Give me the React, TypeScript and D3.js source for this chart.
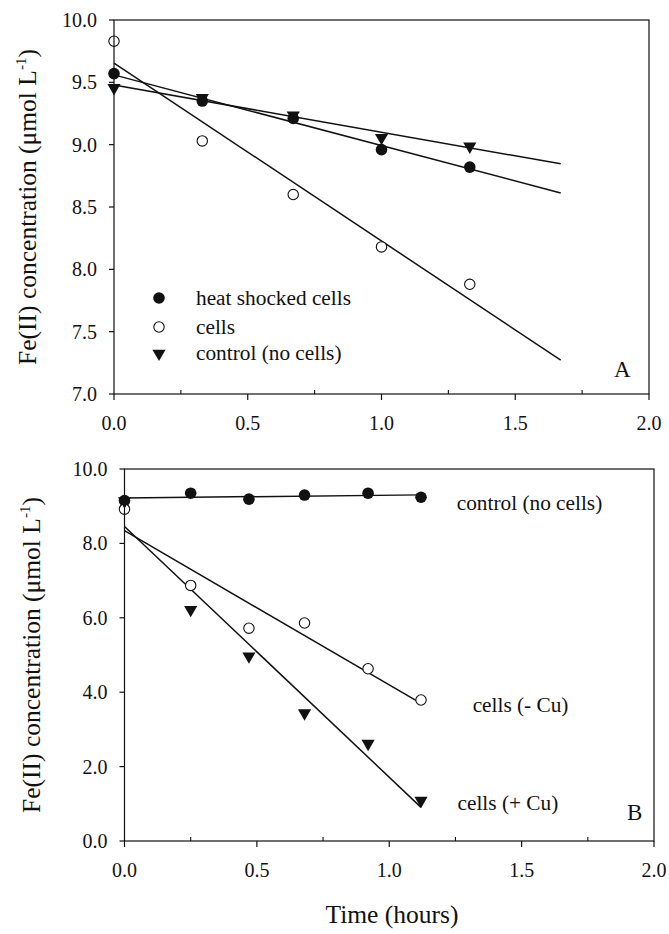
import React from 'react';
import * as d3 from 'd3';

// ---------- data ----------
const timeA = [0, 0.33, 0.67, 1.0, 1.33];
const heatShockedA = [9.57, 9.35, 9.21, 8.96, 8.82];
const cellsA = [9.83, 9.03, 8.6, 8.18, 7.88];
const controlA = [9.46, 9.38, 9.24, 9.06, 8.99];
const fitEndA = 1.67;

const timeB = [0, 0.25, 0.47, 0.68, 0.92, 1.12];
const controlB = [9.15, 9.35, 9.19, 9.3, 9.35, 9.24];
const cellsMinusCuB = [8.92, 6.87, 5.72, 5.86, 4.63, 3.79];
const cellsPlusCuB = [9.15, 6.23, 4.98, 3.45, 2.63, 1.1];
const fitEndB = 1.12;

const xTicks = [0, 0.5, 1.0, 1.5, 2.0];
const xMinorTicks = [0.25, 0.75, 1.25, 1.75];
const yTicksA = [7.0, 7.5, 8.0, 8.5, 9.0, 9.5, 10.0];
const yTicksB = [0, 2, 4, 6, 8, 10];
const legendA = ['heat shocked cells', 'cells', 'control (no cells)'];
const labelsB = ['control (no cells)', 'cells (- Cu)', 'cells (+ Cu)'];
const xTitle = 'Time (hours)';

// ---------- style ----------
const FONT = "'Liberation Serif', 'Times New Roman', Times, serif";
const INK = '#111';
const TICK_FS = 20;
const LABEL_FS = 21.3;
const TITLE_FS = 25.5;

type Marker = 'filled' | 'open' | 'tri';

function fit(xs: number[], ys: number[]) {
  const mx = d3.mean(xs) as number;
  const my = d3.mean(ys) as number;
  let sxy = 0;
  let sxx = 0;
  xs.forEach((x, i) => {
    sxy += (x - mx) * (ys[i] - my);
    sxx += (x - mx) * (x - mx);
  });
  const slope = sxy / sxx;
  return { slope, intercept: my - slope * mx };
}

const triPath = d3.symbol(d3.symbolTriangle, 75)() as string;

function MarkerShape({ kind, x, y }: { kind: Marker; x: number; y: number }) {
  if (kind === 'filled') return <circle cx={x} cy={y} r={5.8} fill={INK} />;
  if (kind === 'open')
    return <circle cx={x} cy={y} r={5.2} fill="white" stroke={INK} strokeWidth={1.1} />;
  return <path d={triPath} transform={`translate(${x},${y + 0.5}) rotate(180)`} fill={INK} />;
}

interface Series {
  t: number[];
  v: number[];
  marker: Marker;
}

interface PanelProps {
  left: number;
  right: number;
  top: number;
  bottom: number;
  yDomain: [number, number];
  yTicks: number[];
  series: Series[];
  fitEnd: number;
  titleX: number;
  letter: string;
  letterPos: [number, number];
  children?: (x: d3.ScaleLinear<number, number>, y: d3.ScaleLinear<number, number>) => React.ReactNode;
}

const txt = (fs: number): React.CSSProperties => ({ fontFamily: FONT, fontSize: fs + 'px', fill: INK });

function Panel(p: PanelProps) {
  const x = d3.scaleLinear().domain([0, 2]).range([p.left, p.right]);
  const y = d3.scaleLinear().domain(p.yDomain).range([p.bottom, p.top]);
  const line = d3
    .line<[number, number]>()
    .x((d) => x(d[0]))
    .y((d) => y(d[1]));
  const cy = (p.top + p.bottom) / 2;
  return (
    <g>
      {p.series.map((s, i) => {
        const f = fit(s.t, s.v);
        const pts: [number, number][] = [
          [0, f.intercept],
          [p.fitEnd, f.intercept + f.slope * p.fitEnd],
        ];
        return <path key={'l' + i} d={line(pts) as string} stroke={INK} strokeWidth={1.5} fill="none" />;
      })}
      {p.series.map((s, i) =>
        s.t.map((t, j) => <MarkerShape key={`m${i}-${j}`} kind={s.marker} x={x(t)} y={y(s.v[j])} />)
      )}
      <rect
        x={p.left}
        y={p.top}
        width={p.right - p.left}
        height={p.bottom - p.top}
        fill="none"
        stroke={INK}
        strokeWidth={1.2}
      />
      {xTicks.map((t) => (
        <g key={'xt' + t}>
          <line x1={x(t)} x2={x(t)} y1={p.bottom} y2={p.bottom + 6} stroke={INK} strokeWidth={1.2} />
          <text x={x(t)} y={p.bottom + 36} textAnchor="middle" style={txt(TICK_FS)}>
            {t.toFixed(1)}
          </text>
        </g>
      ))}
      {xMinorTicks.map((t) => (
        <line key={'xm' + t} x1={x(t)} x2={x(t)} y1={p.bottom} y2={p.bottom - 4} stroke={INK} strokeWidth={1.1} />
      ))}
      {p.yTicks.map((t) => (
        <g key={'yt' + t}>
          <line x1={p.left - 5} x2={p.left} y1={y(t)} y2={y(t)} stroke={INK} strokeWidth={1.2} />
          <text x={p.left - 17} y={y(t) + 7} textAnchor="end" style={txt(TICK_FS)}>
            {t.toFixed(1)}
          </text>
        </g>
      ))}
      <text transform={`translate(${p.titleX},${cy}) rotate(-90)`} textAnchor="middle" style={txt(TITLE_FS)}>
        Fe(II) concentration (μmol L
        <tspan dy={-10} style={{ fontSize: '15px' }}>
          -1
        </tspan>
        <tspan dy={10}>)</tspan>
      </text>
      <text x={p.letterPos[0]} y={p.letterPos[1]} style={txt(23)}>
        {p.letter}
      </text>
      {p.children && p.children(x, y)}
    </g>
  );
}

export default function App() {
  const seriesA: Series[] = [
    { t: timeA, v: heatShockedA, marker: 'filled' },
    { t: timeA, v: cellsA, marker: 'open' },
    { t: timeA, v: controlA, marker: 'tri' },
  ];
  const seriesB: Series[] = [
    { t: timeB, v: controlB, marker: 'filled' },
    { t: timeB, v: cellsMinusCuB, marker: 'open' },
    { t: timeB, v: cellsPlusCuB, marker: 'tri' },
  ];
  const legendMarkers: Marker[] = ['filled', 'open', 'tri'];
  const legendRows = [298, 327, 353];
  const labelPosB: [number, number][] = [
    [1.255, 8.9],
    [1.315, 3.47],
    [1.258, 0.83],
  ];
  return (
    <svg width={669} height={934} style={{ position: 'absolute', left: 0, top: 0, background: 'white' }}>
      <rect width={669} height={934} fill="white" />
      <Panel
        left={114}
        right={649}
        top={20}
        bottom={394}
        yDomain={[7, 10]}
        yTicks={yTicksA}
        series={seriesA}
        fitEnd={fitEndA}
        titleX={36}
        letter="A"
        letterPos={[614, 377]}
      >
        {() =>
          legendA.map((name, i) => (
            <g key={'lg' + i}>
              <MarkerShape kind={legendMarkers[i]} x={159} y={legendRows[i]} />
              <text x={196} y={legendRows[i] + 7} style={txt(LABEL_FS)}>
                {name}
              </text>
            </g>
          ))
        }
      </Panel>
      <Panel
        left={124.5}
        right={654}
        top={469}
        bottom={841}
        yDomain={[0, 10]}
        yTicks={yTicksB}
        series={seriesB}
        fitEnd={fitEndB}
        titleX={40}
        letter="B"
        letterPos={[627, 820]}
      >
        {(x, y) =>
          labelsB.map((name, i) => (
            <text key={'lb' + i} x={x(labelPosB[i][0])} y={y(labelPosB[i][1])} style={txt(LABEL_FS)}>
              {name}
            </text>
          ))
        }
      </Panel>
      <text x={392} y={923} textAnchor="middle" style={txt(TITLE_FS)}>
        {xTitle}
      </text>
    </svg>
  );
}
